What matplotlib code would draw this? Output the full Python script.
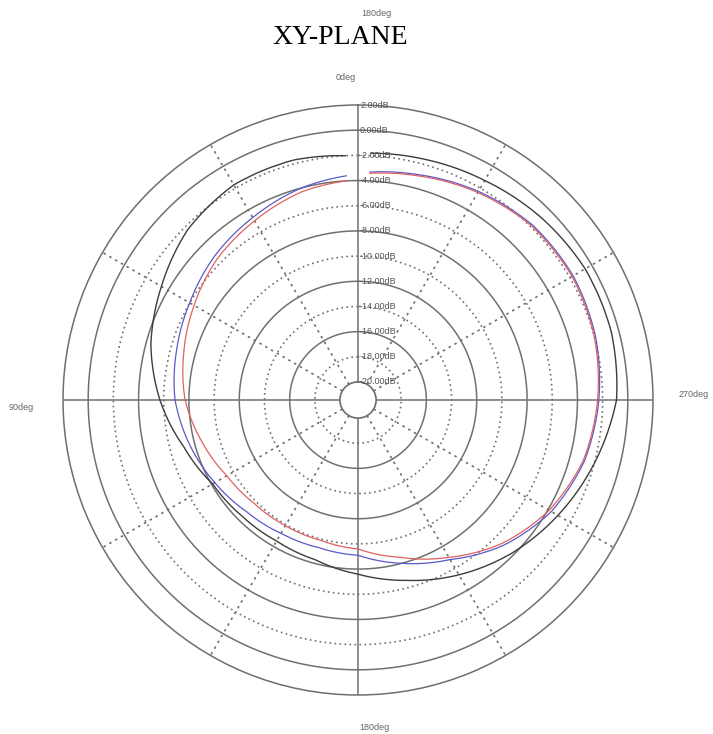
import numpy as np
import matplotlib.pyplot as plt

# angles (deg, counter-clockwise from top) and gain readings in dB
angles = [3, 15, 30, 45, 60, 75, 90, 105, 120, 135, 150, 165, 180,
          195, 210, 225, 240, 255, 270, 285, 300, 315, 330, 345, 357]
red_db = [-4.0, -4.3, -5.0, -5.6, -6.4, -7.1, -7.7, -8.6, -9.4, -9.8, -9.9, -9.9, -9.6,
          -8.5, -7.0, -5.3, -3.9, -2.9, -2.4, -2.0, -1.8, -1.9, -2.4, -3.0, -3.4]
blue_db = [-3.6, -4.0, -4.7, -5.3, -6.0, -6.5, -6.9, -7.6, -8.3, -8.9, -9.2, -9.3, -9.1,
           -8.0, -6.8, -5.1, -3.7, -2.8, -2.3, -1.9, -1.7, -1.8, -2.3, -2.9, -3.3]
black_db = [-2.0, -1.7, -1.7, -2.3, -3.4, -4.4, -5.7, -7.1, -8.1, -8.4, -8.5, -8.3, -7.6,
            -6.6, -5.4, -4.2, -3.1, -2.0, -0.9, -0.6, -0.6, -0.9, -1.3, -1.6, -1.8]

ring_levels = [-20, -18, -16, -14, -12, -10, -8, -6, -4, -2, 0, 2]
ring_labels = ["%.2fdB" % v for v in ring_levels]
spoke_angles = [0, 30, 60, 90, 120, 150, 180, 210, 240, 270, 300, 330]

W, H = 713, 734
fig = plt.figure(figsize=(W / 100, H / 100), dpi=100)
ax = fig.add_axes([63 / W, (334 - 295) / H, 590 / W, 590 / H], projection='polar')
ax.set_theta_zero_location('N')
ax.set_theta_direction(1)
ax.set_ylim(-20, 2)
ax.set_rorigin(-21.43)
ax.grid(False)
ax.set_xticks([])
ax.set_yticks([])
for s in ax.spines.values():
    s.set_color('#6e6e6e')
    s.set_linewidth(1.1)

grid_col = '#707070'
th = np.linspace(0, 2 * np.pi, 721)
for lev in ring_levels[:-1]:
    if lev % 4 == 0:
        ax.plot(th, np.full_like(th, lev), color=grid_col, lw=1.1)
    else:
        ax.plot(th, np.full_like(th, lev), color=grid_col, lw=1.2, ls=(0, (1, 2)))

for a in spoke_angles:
    t = np.deg2rad(a)
    if a % 90 == 0:
        ax.plot([t, t], [-20, 2], color=grid_col, lw=1.1)
    else:
        ax.plot([t, t], [-20, 2], color=grid_col, lw=1.2, ls=(0, (1.5, 2.5)))

t = np.deg2rad(angles)
curves = [(black_db, '#3c3c3c', 1.0), (blue_db, '#5a5ac8', 0.9), (red_db, '#e06060', 0.9)]
for vals, col, lw in curves:
    line, = ax.plot(t, vals, color=col, lw=lw)
    # let the polar transform draw each segment as a curve, not a chord
    line.get_path()._interpolation_steps = 24

for lev, lab in zip(ring_levels, ring_labels):
    ax.annotate(lab, xy=(0, lev), xytext=(1.5, 0), textcoords='offset points',
                ha='left', va='center', fontsize=6.5, color='#555555',
                family='Liberation Sans', annotation_clip=False)

def ftext(x, y, s, **kw):
    fig.text(x / W, 1 - y / H, s, ha='center', va='center', **kw)

small = dict(fontsize=6.5, color='#666666', family='Liberation Sans')
ftext(376, 13, '180deg', **small)
ftext(346, 77, '0deg', **small)
ftext(21, 407, '90deg', **small)
ftext(694, 394, '270deg', **small)
ftext(374, 727, '180deg', **small)
ftext(340, 38, 'XY-PLANE', fontsize=20, color='black', family='Liberation Serif')

fig.savefig('out.png', dpi=100)
